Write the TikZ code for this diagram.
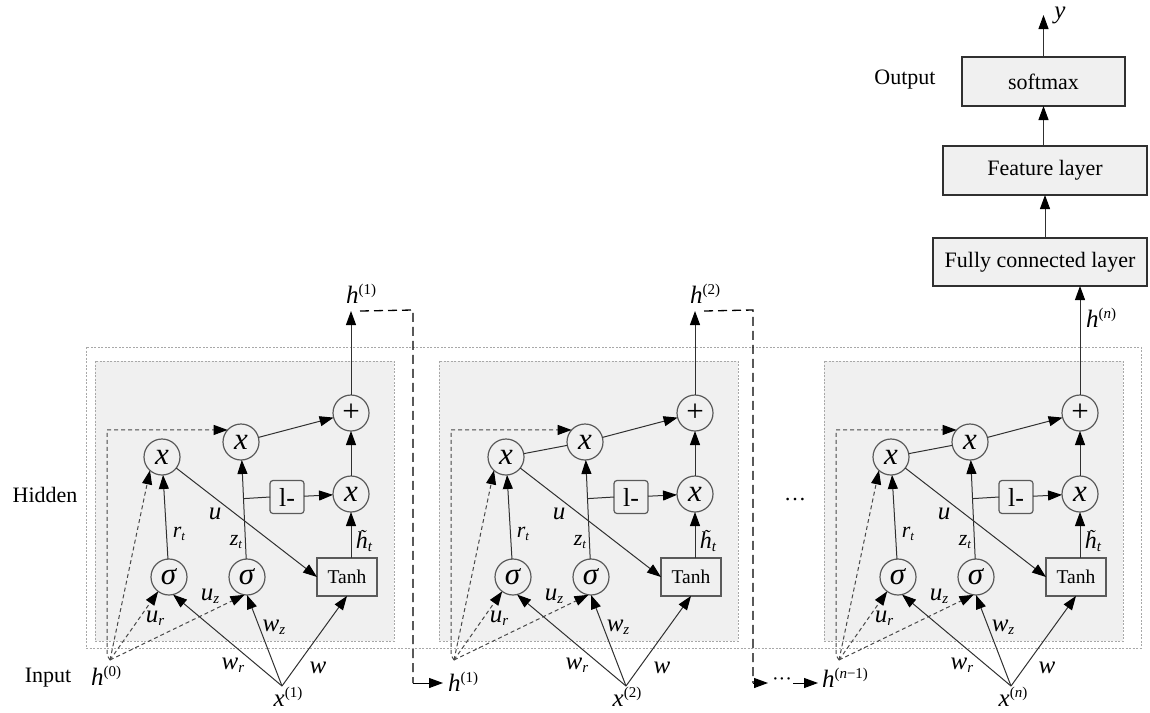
\documentclass[tikz,border=0pt]{standalone}
\usepackage{fontspec}
\setmainfont{Liberation Serif}
\usetikzlibrary{arrows.meta,calc}
\definecolor{bgc}{HTML}{F0F0F0}
\definecolor{lnc}{HTML}{303030}
\definecolor{brd}{HTML}{5A5A5A}
\definecolor{dotc}{HTML}{A8A8A8}
\definecolor{dshc}{HTML}{484848}
\newcommand\fs[1]{\fontsize{#1}{#1}\selectfont}
\newcommand\opx{\fs{31}\textit{x}}
\newcommand\opsig{\fs{31}\textit{σ}}
\newcommand\opplus{\fs{31}+}
\newcommand\lsub[4]{\fs{#1}\textit{#3}\raisebox{-0.3ex}{\fs{#2}\textit{#4}}}
\newcommand\lsup[4]{\fs{#1}\textit{#3}\raisebox{0.75ex}{\fs{#2}#4}}
\newcommand\htil{\textit{h}\llap{\raisebox{6pt}{\fs{18}\textit{\char"02DC}}\kern1pt}}
\tikzset{
 every node/.style={inner sep=0pt, outer sep=0pt},
 op/.style={circle, draw=brd, line width=1.2pt, fill=bgc, minimum size=36pt},
 onebox/.style={draw=brd, line width=1.2pt, fill=bgc, rounded corners=3pt, minimum width=34pt, minimum height=33pt, font=\fs{26}},
 tanhbox/.style={draw=brd, line width=1.5pt, fill=bgc, minimum width=60pt, minimum height=38pt, font=\fs{19.5}},
 layer/.style={draw=lnc, line width=1.1pt, fill=bgc, minimum height=48pt, font=\fs{22}},
 con/.style={draw=lnc, line width=1pt},
 arr/.style={con, -{Triangle[length=14pt,width=10pt,color=black]}},
 dsh/.style={arr, draw=dshc, dash pattern=on 4pt off 3pt},
 bigdash/.style={draw=black, line width=1.3pt, dash pattern=on 9pt off 5pt},
 cellbox/.style={draw=dotc, fill=bgc, line width=0.8pt, dash pattern=on 2pt off 1.5pt},
 outerbox/.style={draw=dotc, line width=0.8pt, dash pattern=on 2pt off 1.5pt},
 lbl/.style={font=\fs{22}},
}
\newcommand\grucell[2]{%
\begin{scope}[xshift=#2pt]
 \draw[cellbox] (95,361) rectangle (394,641);
 \coordinate (#1h) at (110,660);
 \coordinate (#1x) at (282,686);
 \node[op] (#1rx) at (162,457) {\opx};
 \node[op] (#1mx) at (241,442) {\opx};
 \node[op] (#1pl) at (351,413) {\opplus};
 \node[op] (#1ox) at (351,494) {\opx};
 \node[onebox] (#1one) at (287,497) {l-};
 \node[op] (#1sr) at (169,577) {\opsig};
 \node[op] (#1sz) at (247,577) {\opsig};
 \node[tanhbox] (#1th) at (347,577) {Tanh};
 \draw[dsh] (#1h) -- ++(-3,-5) |- (#1mx.138);
 \draw[dsh] (#1h) -- (#1rx.228);
 \draw[dsh] (#1h) -- (#1sr.233);
 \draw[dsh] (#1h) -- (#1sz.262);
 \draw[arr] (#1x) -- (#1sr.-77);
 \draw[arr] (#1x) -- (#1sz.south);
 \draw[arr] (#1x) -- (#1th.south);
 \draw[arr] (#1sr) -- (#1rx);
 \draw[arr] (#1sz) -- (#1mx);
 \draw[arr] (#1rx) -- (#1th.west);
 \draw[con] (#1one.west) -- ($(#1sz.north)!(#1one.west)!(#1mx.south)$);
 \draw[arr] (#1one) -- (#1ox);
 \draw[arr] (#1th.north -| #1ox) -- (#1ox);
 \draw[arr] (#1ox) -- (#1pl);
 \draw[arr] (#1mx) -- (#1pl);
 \node (#1lrt) at (179,534) {\lsub{22}{13}{r}{t}};
 \node (#1lzt) at (236,542) {\lsub{22}{13}{z}{t}};
 \node (#1lu) at (215,514) {\fs{25}\textit{u}};
 \node (#1lur) at (155,618) {\lsub{25}{15}{u}{r}};
 \node (#1luz) at (210,596) {\lsub{25}{15}{u}{z}};
 \node (#1lwz) at (274,627) {\lsub{25}{15}{w}{z}};
 \node (#1lwr) at (233,665) {\lsub{25}{15}{w}{r}};
 \node (#1lw) at (318,668) {\fs{25}\textit{w}};
 \node (#1lht) at (364,541) {\fs{24}\htil\raisebox{-0.3ex}{\fs{15}\textit{t}}};
\end{scope}}
\begin{document}
\begin{tikzpicture}[x=1pt,y=-1pt]
\useasboundingbox (0,0) rectangle (1150,712);
\draw[outerbox] (86,347) rectangle (1141,648);
\grucell{c1}{0}
\grucell{c2}{344}
\grucell{c3}{729}
\draw[con] (c2rx) -- (c2mx);
\draw[con] (c3rx) -- (c3mx);
% side labels
\node[lbl] (hid) at (45,495) {Hidden};
\node[lbl] (inp) at (48,678) {Input};
\node[lbl] (outl) at (905,80) {Output};
\node[lbl] (hdots) at (795,500) {…};
% input labels
\node (h0l) at (106,676) {\lsup{25}{15}{h}{(0)}};
\node (x1l) at (288,697) {\lsup{25}{15}{x}{(1)}};
\node (x2l) at (627,697) {\lsup{25}{15}{x}{(2)}};
\node (xnl) at (1013,697) {\lsup{25}{15}{x}{(\textit{n})}};
\node (h1b) at (463,682) {\lsup{25}{15}{h}{(1)}};
\node (hn1) at (845,678) {\lsup{25}{15}{h}{(\textit{n}−1)}};
% outputs of cells
\coordinate (c1t) at (351,311);
\coordinate (c2t) at (695,311);
\node (h1t) at (361,294) {\lsup{25}{15}{h}{(1)}};
\node (h2t) at (705,294) {\lsup{25}{15}{h}{(2)}};
\draw[arr] (c1pl) -- (c1t);
\draw[arr] (c2pl) -- (c2t);
\coordinate (d1a) at (413,310);
\coordinate (d1b) at (413,683);
\draw[bigdash] ([xshift=9pt]c1t) -- (d1a) -- (d1b);
\draw[arr, draw=black, shorten >=5pt] (d1b) -- (h1b.west |- d1b);
\coordinate (d2a) at (753,310);
\coordinate (d2b) at (753,683);
\coordinate (d2c) at (768,683);
\draw[bigdash] ([xshift=9pt]c2t) -- (d2a) -- (d2b);
\draw[arr, draw=black] (d2b) -- (d2c);
\node[font=\fs{20}] (mdots) at (782,682) {···};
\coordinate (d2d) at (793,683);
\draw[arr, draw=black, shorten >=4pt] (d2d) -- (hn1.west |- d2d);
% output stack
\node[layer, minimum width=214pt] (fc) at (1040,262) {Fully connected layer};
\node[layer, minimum width=204pt, minimum height=49pt] (feat) at (1045,170.5) {Feature layer};
\node[layer, minimum width=163pt, minimum height=49pt] (sm) at (1043.5,81.5) {softmax};
\coordinate (ytip) at (1043.5,15);
\draw[arr] (c3pl) -- (c3pl |- fc.south);
\node (hnl) at (1101,318) {\lsup{25}{15}{h}{(\textit{n})}};
\draw[arr] (fc.north -| feat) -- (feat.south);
\draw[arr] (feat.north -| sm) -- (sm.south);
\draw[arr] (sm.north) -- (ytip);
\node (yl) at (1060,15) {\fs{25}\textit{y}};
\end{tikzpicture}
\end{document}
